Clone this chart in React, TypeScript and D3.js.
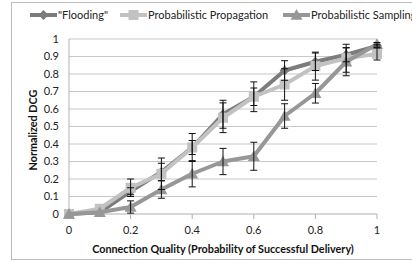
import React from "react";
import * as d3 from "d3";

const quality = [0, 0.1, 0.2, 0.3, 0.4, 0.5, 0.6, 0.7, 0.8, 0.9, 1.0];
const flooding = [0, 0.01, 0.13, 0.24, 0.38, 0.57, 0.67, 0.82, 0.87, 0.91, 0.96];
const floodingErr = [0, 0, 0.02, 0.05, 0.04, 0.08, 0.05, 0.056, 0.05, 0.04, 0.01];
const propagation = [0, 0.03, 0.15, 0.23, 0.38, 0.55, 0.67, 0.74, 0.845, 0.89, 0.915];
const propagationErr = [0, 0, 0.05, 0.09, 0.08, 0.085, 0.085, 0.09, 0.08, 0.08, 0.035];
const sampling = [0, 0.01, 0.04, 0.14, 0.23, 0.3, 0.33, 0.56, 0.69, 0.87, 0.97];
const samplingErr = [0, 0, 0.035, 0.05, 0.075, 0.075, 0.08, 0.07, 0.056, 0.08, 0.01];
const seriesNames = ['"Flooding"', "Probabilistic Propagation", "Probabilistic Sampling"];
const xTicks = [0, 0.2, 0.4, 0.6, 0.8, 1];
const yTicks = [0, 0.1, 0.2, 0.3, 0.4, 0.5, 0.6, 0.7, 0.8, 0.9, 1];

const colors = ["#7c7c7c", "#c2c2c2", "#979797"];
const shapes = ["diamond", "square", "triangle"];

function Marker({ shape, x, y, color }: { shape: string; x: number; y: number; color: string }) {
  if (shape === "diamond") {
    const s = 5;
    return <path d={`M${x},${y - s}L${x + s},${y}L${x},${y + s}L${x - s},${y}Z`} fill={color} />;
  }
  if (shape === "square") {
    const s = 5;
    return <rect x={x - s} y={y - s} width={2 * s} height={2 * s} fill={color} />;
  }
  const s = 6;
  return <path d={`M${x},${y - s}L${x + s},${y + s * 0.8}L${x - s},${y + s * 0.8}Z`} fill={color} />;
}

export default function App() {
  const W = 412, H = 262;
  const x = d3.scaleLinear().domain([0, 1]).range([69, 377]);
  const y = d3.scaleLinear().domain([0, 1]).range([214, 39]);
  const font = "Lato, 'Open Sans', sans-serif";
  const data = [flooding, propagation, sampling];
  const errs = [floodingErr, propagationErr, samplingErr];
  const line = d3
    .line<number>()
    .x((_, i) => x(quality[i]))
    .y((d) => y(d));
  const legendX = [30, 120, 283];

  return (
    <svg width={W} height={H} style={{ position: "absolute", left: 0, top: 0 }}>
      <rect x={0} y={0} width={W} height={H} fill="#fff" />
      <rect x={11.5} y={2.5} width={420} height={257} fill="none" stroke="#bdbdbd" strokeWidth={1} />
      {yTicks.map((t) => (
        <line key={t} x1={x(0)} x2={x(1)} y1={y(t)} y2={y(t)} stroke={t === 0 ? "#b0b0b0" : "#c8c8c8"} strokeWidth={1} />
      ))}
      <line x1={x(0)} x2={x(0)} y1={y(1)} y2={y(0)} stroke="#b0b0b0" strokeWidth={1} />
      {xTicks.map((t) => (
        <line key={t} x1={x(t)} x2={x(t)} y1={y(0)} y2={y(0) + 5} stroke="#b0b0b0" strokeWidth={1} />
      ))}
      {yTicks.map((t) => (
        <text key={t} x={59} y={y(t) + 3.8} textAnchor="end" fontSize={11} fontFamily={font} fill="#222">
          {d3.format("")(t)}
        </text>
      ))}
      {xTicks.map((t) => (
        <text key={t} x={x(t)} y={233.8} textAnchor="middle" fontSize={11} fontFamily={font} fill="#222">
          {d3.format("")(t)}
        </text>
      ))}
      <text x={223} y={252.8} textAnchor="middle" fontSize={10.8} fontWeight="bold" fontFamily={font} fill="#111">
        Connection Quality (Probability of Successful Delivery)
      </text>
      <text
        transform={`translate(36.5,130) rotate(-90)`}
        textAnchor="middle"
        fontSize={10.8}
        fontWeight="bold"
        fontFamily={font}
        fill="#111"
      >
        Normalized DCG
      </text>
      {data.map((d, si) => (
        <g key={si}>
          <path d={line(d) || ""} fill="none" stroke={colors[si]} strokeWidth={4} strokeLinejoin="round" />
          {d.map((v, i) => (
            <Marker key={i} shape={shapes[si]} x={x(quality[i])} y={y(v)} color={colors[si]} />
          ))}
        </g>
      ))}
      {data.map((d, si) => (
        <g key={"e" + si}>
          {d.map((v, i) =>
            errs[si][i] > 0 ? (
              <g key={i} stroke="#111" strokeWidth={1}>
                <line x1={x(quality[i])} x2={x(quality[i])} y1={y(v - errs[si][i])} y2={y(v + errs[si][i])} />
                <line x1={x(quality[i]) - 3.5} x2={x(quality[i]) + 3.5} y1={y(v - errs[si][i])} y2={y(v - errs[si][i])} />
                <line x1={x(quality[i]) - 3.5} x2={x(quality[i]) + 3.5} y1={y(v + errs[si][i])} y2={y(v + errs[si][i])} />
              </g>
            ) : null
          )}
        </g>
      ))}
      {seriesNames.map((name, si) => (
        <g key={name}>
          <line x1={legendX[si]} x2={legendX[si] + 27} y1={15} y2={15} stroke={colors[si]} strokeWidth={4} />
          <Marker shape={shapes[si]} x={legendX[si] + 13.5} y={15} color={colors[si]} />
          <text x={legendX[si] + 28} y={18.8} fontSize={11} fontFamily={font} fill="#222">
            {name}
          </text>
        </g>
      ))}
    </svg>
  );
}
